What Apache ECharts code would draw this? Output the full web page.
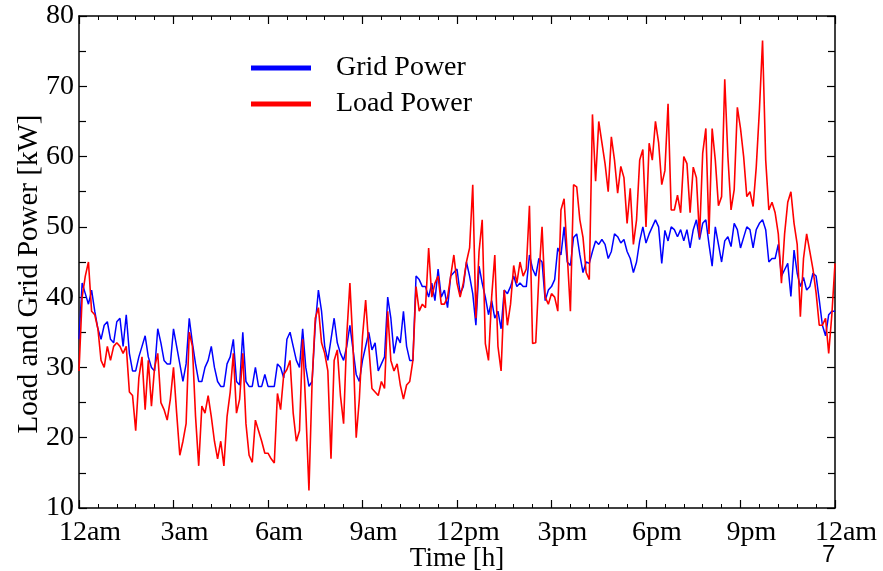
<!DOCTYPE html>
<html><head><meta charset="utf-8">
<script src="https://cdn.jsdelivr.net/npm/echarts@6/dist/echarts.min.js"></script>
<style>html,body{margin:0;padding:0;background:#fff}#c{width:883px;height:571px}</style>
</head><body><div id="c"></div>
<script>
// ---- data ----
const timeLabels = ['12am','3am','6am','9am','12pm','3pm','6pm','9pm','12am'];
const seriesNames = ['Grid Power','Load Power'];
const stepHours = 0.1; // one sample every 6 minutes, starting at 12am
const gridPower = [
 34,42,40.5,39,41,38,35.5,34,36,36.5,
 34,33.5,36.5,37,33,37.5,32,29.5,29.5,31.5,
 33,34.5,31.5,30,29.5,35.5,33.5,31,30.5,30.5,
 35.5,33,30.5,28,30.5,37,33.5,30.5,28,28,
 30,31,33,30,28,27.3,27.3,30.5,31.5,34,
 28,27.5,35,28,27.3,27.3,30,27.3,27.3,29,
 27.3,27.3,27.3,30.5,30,28.5,34,35,33,31,
 30,35.5,30,27.3,28,36,41,38,33,31,
 34,37,33.5,32,31,33,36,32.5,29,28,
 31,33,35,32.5,33.5,29.5,30.5,31.5,40,37,
 32,34.4,33.5,38,33,31,31,43,42.5,41.5,
 41.5,40,42,39.5,44,40,41,38.5,43,43.5,
 44,40.5,41.5,45,43,40.5,36,44.4,42,40,
 37.5,39.5,37,38,35.5,41,40.5,41.5,43,41.5,
 42,41.5,41.5,46,44,43,45.5,45,39.5,41,
 41.5,42.5,47,46,50,45,44.5,48.5,49,46,
 43.5,45,44.8,46.5,48,47.5,48.2,47.5,45.5,46.5,
 49,48.6,47.7,48.2,46.5,45.5,43.5,45,48,50,
 47.7,49,50,51,50,44.8,49.5,48,50,49.6,
 48.6,49.6,48,49.6,47,49.6,51,48.2,50.5,51,
 47.5,44.4,50,47.5,45,48,48.6,47.2,50.5,49.6,
 47,48.5,50,49.6,47,49.6,50.5,51,49.6,45,
 45.5,45.5,47.5,43,43.9,44.8,40.1,46.7,43.4,41.5,
 42.8,41,41.5,43.4,43,39.6,36,34.5,37.5,38,
 38
];
const loadPower = [
 29.5,40,43,45,38,37.5,35.5,31,30,33,
 31,33,33.5,33,32,33,26.5,26,21,28.5,
 31.5,24,31,24.5,30,32,25,24,22.5,25.5,
 30,23.5,17.5,19.5,22,35,33,23,16,24.5,
 23.5,26,23,19.5,17,19.5,16,23,26.5,32,
 23.5,25.5,32,22,17.5,16.5,22.5,21,19.5,17.8,
 17.8,17,16.4,26.3,24,29,29.7,31,23.5,19.5,
 21,34,24,12.5,28,37,38.5,33.5,32,29.5,
 17,31,32.5,26,22,34.5,42,33,20,25.5,
 34.4,39.6,33,27,26.5,26,28,27,38,31,
 29.5,30.5,27.5,25.5,27.5,28,31,41.5,38,39,
 38.5,47,40,42,43,39,39,40,43,46,
 42,40,42,45,47,56,37,46.5,51,33.4,
 31,40,46,33,29.5,41,36,39,44.5,42,
 45,43,44,53,33.4,33.5,43,50,40,39,
 40.5,40,38,52.4,54,46,38,56,55.7,51,
 48.5,43.5,42.5,66,56.5,65,62,59,55,62.8,
 59.5,54.8,58.6,57,50.5,55.5,47.5,51,59.5,61,
 50,61.9,59.5,65,62,56,58,67.5,52.4,52.4,
 54.5,52,60,59,52,58.5,57,48.5,60.5,64,
 49,64,59.5,53,54.3,71,60,52.4,55.3,67,
 64,60,54.3,55,52.9,58.5,66.6,76.5,59.5,52.4,
 53.5,52,49,42,49,53.5,55,50.5,47.5,37.2,
 45.5,49,46.5,44,40.6,36,36,37,32,37.5,
 44.8
];

// ---- chart ----
const serif = '"Liberation Serif","Times New Roman",serif';
const toPairs = arr => arr.map((v, i) => [+(i * stepHours).toFixed(2), v]);
const chart = echarts.init(document.getElementById('c'), null, {renderer: 'canvas'});

const xCommon = {
  type: 'value', min: 0, max: 24, interval: 3,
  axisLine: {show: true, onZero: false, lineStyle: {color: '#000', width: 1.5}},
  axisTick: {show: true, inside: true, length: 8, lineStyle: {color: '#000', width: 1.2}},
  minorTick: {show: true, splitNumber: 5, length: 4, lineStyle: {color: '#000', width: 1}},
  splitLine: {show: false}
};
const yCommon = {
  type: 'value', min: 10, max: 80, interval: 10,
  axisLine: {show: true, onZero: false, lineStyle: {color: '#000', width: 1.5}},
  axisTick: {show: true, inside: true, length: 8, lineStyle: {color: '#000', width: 1.2}},
  minorTick: {show: true, splitNumber: 2, length: 7, lineStyle: {color: '#000', width: 1.2}},
  splitLine: {show: false}
};

chart.setOption({
  animation: false,
  backgroundColor: '#fff',
  grid: {left: 79, right: 48, top: 16, bottom: 63, containLabel: false, outerBoundsMode: 'none'},
  legend: {
    data: seriesNames,
    orient: 'vertical', left: 251, top: 54, padding: 0,
    icon: 'rect', itemWidth: 60, itemHeight: 5, itemGap: 8,
    textStyle: {fontFamily: serif, fontSize: 28, color: '#000', lineHeight: 28, padding: [0, 0, 0, 20]}
  },
  xAxis: [
    Object.assign({}, xCommon, {
      position: 'bottom',
      axisLabel: {show: true, formatter: v => timeLabels[Math.round(v / 3)], fontFamily: serif, fontSize: 28, color: '#000', margin: 11, padding: [0, 0, 0, 22]},
      name: 'Time [h]', nameLocation: 'middle', nameGap: 37, nameMoveOverlap: false,
      nameTextStyle: {fontFamily: serif, fontSize: 27, color: '#000'}
    }),
    Object.assign({}, xCommon, {position: 'top', axisLabel: {show: false}})
  ],
  yAxis: [
    Object.assign({}, yCommon, {
      position: 'left',
      axisLabel: {show: true, fontFamily: serif, fontSize: 28, color: '#000', margin: 5},
      name: 'Load and Grid Power [kW]', nameLocation: 'middle', nameGap: 35, nameRotate: 90, nameMoveOverlap: false,
      nameTextStyle: {fontFamily: serif, fontSize: 29, color: '#000', padding: [0, 24, 0, 0]}
    }),
    Object.assign({}, yCommon, {position: 'right', axisLabel: {show: false}})
  ],
  series: [
    {name: seriesNames[0], type: 'line', data: toPairs(gridPower), showSymbol: false, symbol: 'none',
     lineStyle: {color: '#0000ff', width: 1.5}, itemStyle: {color: '#0000ff'}, xAxisIndex: 0, yAxisIndex: 0},
    {name: seriesNames[1], type: 'line', data: toPairs(loadPower), showSymbol: false, symbol: 'none',
     lineStyle: {color: '#ff0000', width: 1.6}, itemStyle: {color: '#ff0000'}, xAxisIndex: 0, yAxisIndex: 0}
  ],
  graphic: [
    {type: 'text', left: 822, top: 543, style: {text: '7', font: '24px "Liberation Sans", Arial, sans-serif', fill: '#000'}}
  ]
});
</script>
</body></html>
